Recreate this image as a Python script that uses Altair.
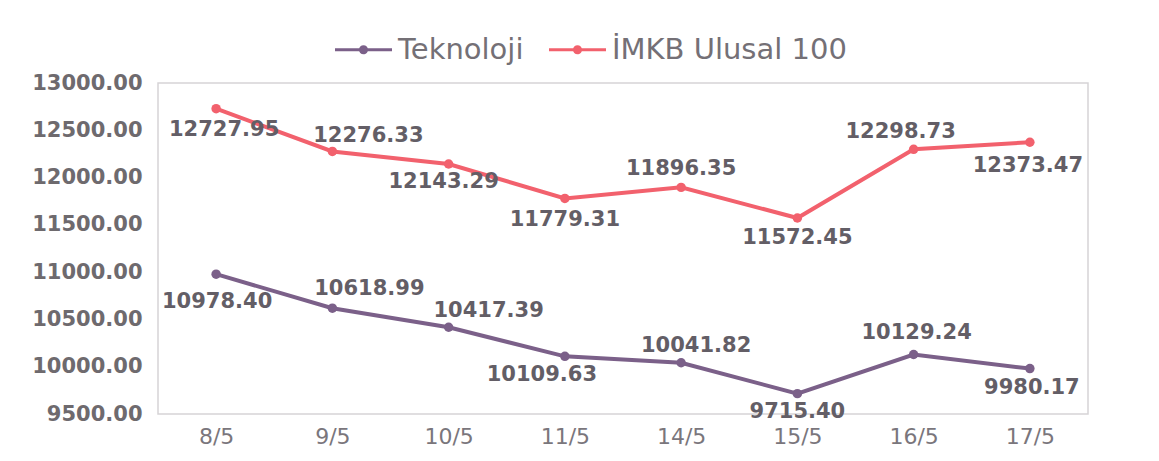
import altair as alt
import pandas as pd

# ---- data ----
dates = ["8/5", "9/5", "10/5", "11/5", "14/5", "15/5", "16/5", "17/5"]
teknoloji = [10978.40, 10618.99, 10417.39, 10109.63, 10041.82, 9715.40, 10129.24, 9980.17]
imkb = [12727.95, 12276.33, 12143.29, 11779.31, 11896.35, 11572.45, 12298.73, 12373.47]
series_names = ["Teknoloji", "İMKB Ulusal 100"]
y_ticks = [9500, 10000, 10500, 11000, 11500, 12000, 12500, 13000]

# label placement offsets (pixels) relative to each point
tek_dx = [1, 37, 40, -23, 15, 0, 3, 2]
tek_dy = [28, -19, -16, 19, -17, 18, -21, 19]
imkb_dx = [8, 36, -5, 0, 0, 0, -13, -2]
imkb_dy = [21, -15, 18, 22, -18, 20, -17, 24]

rows = []
for name, vals, dxs, dys in [
    (series_names[0], teknoloji, tek_dx, tek_dy),
    (series_names[1], imkb, imkb_dx, imkb_dy),
]:
    for d, v, dx, dy in zip(dates, vals, dxs, dys):
        rows.append({"date": d, "value": v, "series": name,
                     "label": f"{v:.2f}", "dx": dx, "dy": dy})
df = pd.DataFrame(rows)

PURPLE = "#7b6089"
PINK = "#f2616d"
FONT = "DejaVu Sans"

color_scale = alt.Scale(domain=series_names, range=[PURPLE, PINK])

x_enc = alt.X(
    "date:N", sort=dates, title=None,
    scale=alt.Scale(type="point", padding=0.5),
    axis=alt.Axis(labelAngle=0, ticks=False, domain=False, grid=False,
                  labelFont=FONT, labelFontSize=22, labelColor="#7a767c",
                  labelPadding=12),
)
y_enc = alt.Y(
    "value:Q", title=None,
    scale=alt.Scale(domain=[9500, 13000], nice=False, zero=False),
    axis=alt.Axis(values=y_ticks, format=".2f", ticks=False, domain=False,
                  grid=False, labelFont=FONT, labelFontSize=21,
                  labelFontWeight="bold",
                  labelColor="#6e6a6e", labelPadding=16),
)

base = alt.Chart(df).encode(x=x_enc, y=y_enc)

legend_symbol = ("M-1,-0.055 L1,-0.055 L1,0.055 L-1,0.055 Z "
                 "M0.16,0 A0.16,0.16 0 1 1 -0.16,0 A0.16,0.16 0 1 1 0.16,0 Z")

points = base.mark_circle(size=90, opacity=1).encode(
    color=alt.Color(
        "series:N", scale=color_scale, sort=series_names,
        legend=alt.Legend(
            title=None, orient="none", direction="horizontal",
            legendX=177, legendY=-62,
            symbolType=legend_symbol, symbolSize=3249, symbolStrokeWidth=0,
            symbolOpacity=1,
            labelFont=FONT, labelFontSize=29, labelColor="#747076",
            labelLimit=0, labelOffset=6, columnPadding=25,
        ),
    )
)

lines = base.mark_line(strokeWidth=4).encode(
    color=alt.Color("series:N", scale=color_scale, legend=None)
)

labels = base.mark_text(
    font=FONT, fontSize=21, fontWeight="bold", color="#635e66",
    dx=alt.expr("datum.dx"), dy=alt.expr("datum.dy"),
).encode(text="label:N")

chart = (
    alt.layer(points, lines, labels)
    .properties(
        width=930, height=331,
        autosize=alt.AutoSizeParams(type="none"),
        padding={"left": 150, "top": 75, "right": 20, "bottom": 40},
        background="white",
    )
    .configure_view(stroke="#d6d4d6", strokeWidth=1.5)
)

chart.save("out.html", embed_options={"renderer": "svg", "actions": False})
